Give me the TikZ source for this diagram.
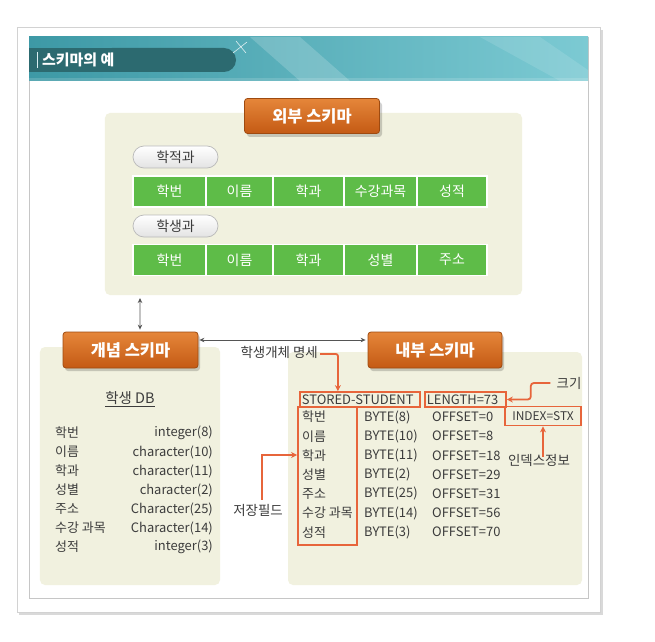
\documentclass[tikz,border=0pt]{standalone}
\usepackage{fontspec}
\setmainfont{Noto Sans CJK KR}
\usetikzlibrary{arrows.meta,calc}
\definecolor{tealband}{HTML}{44AAB8}
\definecolor{teallight}{HTML}{7CCAD3}
\definecolor{tabc}{HTML}{2C6A70}
\definecolor{beigec}{HTML}{F1F1DF}
\definecolor{btntop}{HTML}{E5863A}
\definecolor{btnbot}{HTML}{C45A14}
\definecolor{btnedge}{HTML}{9E4A10}
\definecolor{greenc}{HTML}{5EBC48}
\definecolor{annc}{HTML}{E7653B}
\definecolor{txt}{HTML}{3C3C3C}
\definecolor{arrc}{HTML}{555555}
\tikzset{
  beige/.style={fill=beigec, draw=none, rounded corners=5bp, inner sep=0pt},
  btn/.style={rounded corners=3bp, top color=btntop, bottom color=btnbot, draw=btnedge, line width=0.8bp,
    text=white, font=\fontsize{16.5}{16.5}\selectfont\bfseries, minimum width=135bp, minimum height=35bp, inner sep=0pt},
  btnshadow/.style={fill=black, opacity=0.18, rounded corners=3bp},
  pill/.style={rounded corners=11bp, top color=white, bottom color=gray!22, draw=gray!55, line width=0.7bp,
    minimum width=85bp, minimum height=22bp, inner sep=0pt, text=txt, font=\fontsize{14}{14}\selectfont},
  cell/.style={fill=greenc, draw=white, line width=1.5bp, text=white, inner sep=0pt,
    font=\fontsize{14}{14}\selectfont},
  tab/.style={text=txt, font=\fontsize{13}{13}\selectfont, inner sep=0pt},
  lbl/.style={text=txt, font=\fontsize{13.5}{13.5}\selectfont, inner sep=0pt},
  annbox/.style={draw=annc, line width=1.8bp, inner sep=1bp},
  ann/.style={draw=annc, line width=1.8bp},
  annarrow/.style={ann, -{Stealth[length=6bp,width=6bp]}},
  dbl/.style={draw=arrc, line width=0.9bp, {Stealth[length=5bp,width=4.5bp]}-{Stealth[length=5bp,width=4.5bp]}}
}
\begin{document}
\begin{tikzpicture}[x=1bp,y=-1bp]
\useasboundingbox (0,0) rectangle (655,642);
\fill[white] (0,0) rectangle (655,642);
% card
\fill[gray!30] (19,30) rectangle (603,615);
\fill[white] (17,27) rectangle (600,612);
\draw[gray!35, line width=0.6bp] (17,27) rectangle (600,612);
\draw[gray!45, line width=0.9bp] (29,37) rectangle (588,598);
% header band
\shade[left color=tealband!90!black, right color=teallight] (29,37) rectangle (588,81);
\fill[white, opacity=0.18] (250,37) -- (300,37) -- (350,81) -- (300,81) -- cycle;
\fill[white, opacity=0.12] (480,37) -- (540,37) -- (588,70) -- (588,81) -- (560,81) -- cycle;
\fill[white, opacity=0.15] (29,78) rectangle (588,81);
\fill[tabc] (29,48) rectangle (215,72);
\fill[tabc, rounded corners=12bp] (100,48) rectangle (236,72);
\draw[white, opacity=0.8, line width=0.6bp] (233,53) -- (247,42);
\draw[white, opacity=0.8, line width=0.6bp] (236,41) -- (246,53);
\draw[white!80!tealband, line width=0.8bp] (37,52) -- (37,68);
\node[anchor=west, text=white, inner sep=0pt, font=\fontsize{15}{15}\selectfont\bfseries] (title) at (42,60) {스키마의 예};
% external schema box
\node[beige, minimum width=417bp, minimum height=182bp] (extbox) at (313.5,204) {};
\fill[btnshadow] (247,102) rectangle (382,137);
\node[btn] (ext) at (312,116) {외부 스키마};
\node[pill] (p1) at (175.5,157) {학적과};
\node[pill] (p2) at (175.5,226) {학생과};
\foreach \a/\b/\t [count=\i] in {133/206/학번,206/273/이름,273/344/학과,344/417/수강과목,417/487/성적}{
  \node[cell, minimum width={(\b-\a)*1bp}, minimum height=31bp] (ra\i) at ({(\a+\b)/2},191.5) {\t};
}
\foreach \a/\b/\t [count=\i] in {133/206/학번,206/273/이름,273/344/학과,344/417/성별,417/487/주소}{
  \node[cell, minimum width={(\b-\a)*1bp}, minimum height=31bp] (rb\i) at ({(\a+\b)/2},260) {\t};
}
% conceptual box
\node[beige, minimum width=180bp, minimum height=238bp] (conbox) at (130,466) {};
% internal box
\node[beige, minimum width=294bp, minimum height=233bp] (intbox) at (435,468.5) {};
\fill[btnshadow] (65,335) rectangle (200,371);
\node[btn, minimum height=36bp] (concept) at (130.5,350) {개념 스키마};
\fill[btnshadow] (370,335) rectangle (504,371);
\node[btn, minimum height=36bp, minimum width=134bp] (internal) at (435,350) {내부 스키마};
% arrows between schemas
\coordinate (vtop) at (140,298);
\draw[dbl] (vtop) -- ([xshift=9.5bp,yshift=2bp]concept.north);
\draw[dbl] ([xshift=1bp,yshift=10bp]concept.east) -- ([xshift=-2bp,yshift=10bp]internal.west);
% conceptual content
\node[text=txt, inner sep=0pt, font=\fontsize{14.5}{14.5}\selectfont] (db) at (130,398) {학생 DB};
\draw[txt, line width=0.8bp] ([yshift=-2bp]db.south west) -- ([yshift=-2bp]db.south east);
\foreach \n/\t [count=\i] in {학번/integer(8),이름/character(10),학과/character(11),성별/character(2),주소/Character(25),수강 과목/Character(14),성적/integer(3)}{
  \node[tab, anchor=west] (cn\i) at (55,{433+19*(\i-1)}) {\n};
  \node[tab, anchor=east] (ct\i) at (213,{433+19*(\i-1)}) {\t};
}
% internal content
\node[annbox, anchor=west, minimum width=120bp, minimum height=15bp, text width=116bp, align=left, tab] (stored) at (299,399.5) {STORED-STUDENT};
\node[annbox, anchor=west, minimum width=81bp, minimum height=15bp, text width=77bp, align=left, tab] (length) at (424,399.5) {LENGTH=73};
\node[annbox, minimum width=76bp, minimum height=19bp, tab, font=\fontsize{12}{12}\selectfont] (index) at (543,416) {INDEX=STX};
\node[annbox, minimum width=59bp, minimum height=138bp] (fields) at (327.5,476) {};
\foreach \n/\b/\o [count=\i] in {학번/BYTE(8)/OFFSET=0,이름/BYTE(10)/OFFSET=8,학과/BYTE(11)/OFFSET=18,성별/BYTE(2)/OFFSET=29,주소/BYTE(25)/OFFSET=31,수강 과목/BYTE(14)/OFFSET=56,성적/BYTE(3)/OFFSET=70}{
  \node[tab, anchor=west] (in\i) at (302,{417+19.2*(\i-1)}) {\n};
  \node[tab, anchor=west] (ib\i) at (364,{417+19.2*(\i-1)}) {\b};
  \node[tab, anchor=west] (io\i) at (432,{417+19.2*(\i-1)}) {\o};
}
% annotations
\node[lbl, anchor=east] (spec) at (318,352) {학생개체 명세};
\draw[annarrow, rounded corners=2bp] ([xshift=2bp,yshift=-2bp]spec.east) -| ([xshift=-22bp]stored.north);
\node[lbl] (size) at (569,383) {크기};
\draw[annarrow, rounded corners=3bp] ([xshift=-6bp]size.west) -| ([xshift=24bp]length.east) -- (length.east);
\node[lbl] (idxinfo) at (539,460) {인덱스정보};
\draw[annarrow] (index.south |- idxinfo.north) ++(0,-3bp) -- (index.south);
\node[lbl] (store) at (258,510) {저장필드};
\draw[annarrow] ([xshift=4bp,yshift=4bp]store.north) |- ([yshift=21bp]fields.west);
\end{tikzpicture}
\end{document}
